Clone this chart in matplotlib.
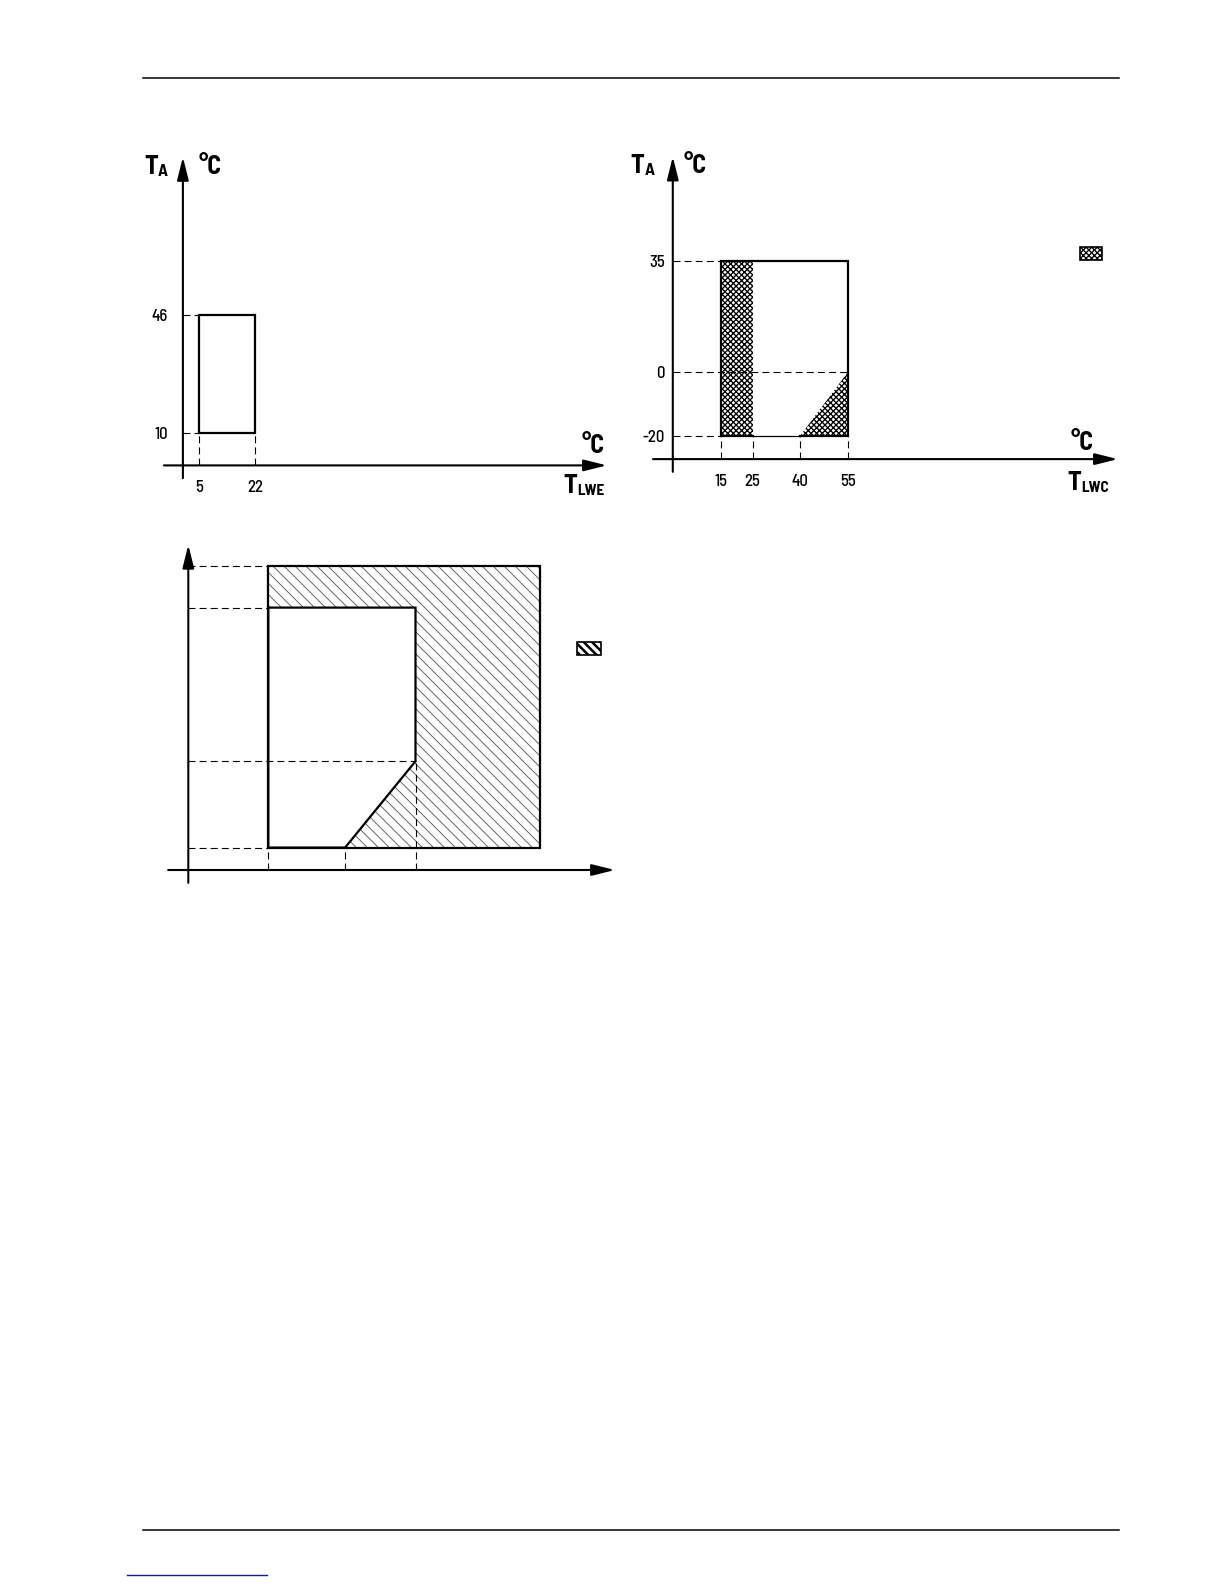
import matplotlib
matplotlib.use('Agg')
import numpy as np
import matplotlib.pyplot as plt
from matplotlib.collections import LineCollection
from matplotlib.lines import Line2D
from matplotlib.patches import Polygon, Rectangle

W, H = 1224, 1584

# chart 1: T_A against leaving water temperature, evaporator
lwe_x = [5, 22]
lwe_y = [10, 46]

# chart 2: T_A against leaving water temperature, condenser
lwc_x = [15, 25, 40, 55]
lwc_y = [-20, 0, 35]

# chart 3: same kind of envelope, values not printed in the source
c3_x = [25, 49, 71, 110]
c3_y = [7, 34, 82, 95]

TICKFONT = dict(family=['Barlow Semi Condensed', 'DejaVu Sans'], fontweight='medium')
BOLDFONT = dict(family=['Barlow Semi Condensed', 'DejaVu Sans'], fontweight='bold')
plt.rcParams['lines.scale_dashes'] = False

fig = plt.figure(figsize=(W / 100, H / 100), dpi=100)
dash = dict(color='black', lw=0.8, dashes=(5, 3))


def make_axes(x0, y0, sx, sy, xlim, ylim):
    # place an axes so that data (0,0) falls on pixel (x0, y0)
    left = x0 + xlim[0] * sx
    width = (xlim[1] - xlim[0]) * sx
    bottom = y0 - ylim[0] * sy
    height = (ylim[1] - ylim[0]) * sy
    ax = fig.add_axes([left / W, 1 - bottom / H, width / W, height / H])
    ax.set_xlim(xlim)
    ax.set_ylim(ylim)
    ax.axis('off')
    return ax


def arrow(ax, start, end):
    ax.annotate('', xy=end, xytext=start, annotation_clip=False,
                arrowprops=dict(arrowstyle='-|>,head_length=1.4,head_width=0.35',
                                mutation_scale=10, lw=1.5, color='black',
                                shrinkA=0, shrinkB=0))


def ylab(ax, v, dx):
    ax.annotate(str(v), xy=(0, v), xytext=(-dx, -4.2), textcoords='offset points',
                ha='right', va='baseline', fontsize=12, annotation_clip=False, **TICKFONT)


def xlab(ax, v, yaxis):
    ax.annotate(str(v), xy=(v, yaxis), xytext=(0, -19.2), textcoords='offset points',
                ha='center', va='baseline', fontsize=12, annotation_clip=False, **TICKFONT)


def sym(ax, x, y, main, sub, subsize=12.5, dy=2):
    t = ax.text(x, y, main, fontsize=19, ha='left', va='baseline', **BOLDFONT)
    ax.annotate(sub, xy=(1, 0), xycoords=t, xytext=(0.2, dy), textcoords='offset points',
                fontsize=subsize, ha='left', va='baseline', **BOLDFONT)


def unit(ax, x, y):
    ax.text(x, y, '°C', fontsize=18.5, ha='center', va='baseline', **BOLDFONT)


def set_hlw(p, w):
    if hasattr(p, 'set_hatch_linewidth'):
        p.set_hatch_linewidth(w)


# ---------------- chart 1 ----------------
ax1 = make_axes(182.9, 465.4, 3.276, 3.27, (-14, 136), (-12, 98))
for v in lwe_y:
    ax1.plot([0, lwe_x[0]], [v, v], **dash)
for v in lwe_x:
    ax1.plot([v, v], [0, lwe_y[0]], **dash)
ax1.add_patch(Rectangle((lwe_x[0], lwe_y[0]), lwe_x[1] - lwe_x[0], lwe_y[1] - lwe_y[0],
                        fill=False, ec='black', lw=1.6))
arrow(ax1, (-5.8, 0), (129.4, 0))
arrow(ax1, (0, -3.9), (0, 94.3))
for v in lwe_y:
    ylab(ax1, v, 11)
for v in lwe_x:
    xlab(ax1, v, 0)
sym(ax1, -11.9, 89.1, 'T', 'A')
unit(ax1, 8.3, 89.1)
unit(ax1, 125.2, 3.9)
sym(ax1, 116, -8.5, 'T', 'LWE', subsize=11, dy=2.4)

# ---------------- chart 2 ----------------
ax2 = make_axes(672.8, 372.3, 3.19, 3.18, (-16, 142), (-40, 70))
x_axis_y = -27.3
band = Rectangle((lwc_x[0], lwc_y[0]), lwc_x[1] - lwc_x[0], lwc_y[2] - lwc_y[0],
                 fc='white', ec='black', lw=0, hatch='xxxxxx')
tri = Polygon([(lwc_x[2], lwc_y[0]), (lwc_x[3], lwc_y[0]), (lwc_x[3], lwc_y[1])],
              closed=True, fc='white', ec='black', lw=0, hatch='xxxxxx')
for p in (band, tri):
    set_hlw(p, 0.95)
    ax2.add_patch(p)
for v in (lwc_y[2], lwc_y[0]):
    ax2.plot([0, lwc_x[0]], [v, v], **dash)
ax2.plot([0, lwc_x[3]], [lwc_y[1], lwc_y[1]], **dash)
for v in lwc_x:
    ax2.plot([v, v], [x_axis_y, lwc_y[0]], **dash)
ax2.plot([lwc_x[1], lwc_x[0], lwc_x[0], lwc_x[3], lwc_x[3], lwc_x[2]],
         [lwc_y[0], lwc_y[0], lwc_y[2], lwc_y[2], lwc_y[0], lwc_y[0]],
         color='black', lw=1.6, solid_joinstyle='miter')
ax2.plot([lwc_x[1], lwc_x[2]], [lwc_y[0], lwc_y[0]], color='black', lw=0.9)
arrow(ax2, (-6.2, x_axis_y), (139.5, x_axis_y))
arrow(ax2, (0, -31.3), (0, 67.8))
for v in lwc_y:
    ylab(ax2, v, 5.6)
for v in lwc_x:
    xlab(ax2, v, x_axis_y)
sym(ax2, -13.2, 62.7, 'T', 'A')
unit(ax2, 7.1, 62.7)
unit(ax2, 128.3, -24.4)
sym(ax2, 123.8, -37, 'T', 'LWC', subsize=11, dy=2.4)
key2 = Rectangle((127.6, 35.3), 6.9, 4.2, fc='white', ec='black', lw=1.2,
                 hatch='xxxxxx')
set_hlw(key2, 0.95)
ax2.add_patch(key2)

# ---------------- chart 3 ----------------
ax3 = make_axes(188.3, 870, 3.2, 3.2, (-8, 140), (-8, 105))
outer = Rectangle((c3_x[0], c3_y[0]), c3_x[3] - c3_x[0], c3_y[3] - c3_y[0],
                  fc='white', ec='none', zorder=1)
ax3.add_patch(outer)
# thin grey hatch, drawn as lines clipped to the outer box
ks = np.arange(c3_x[0] + c3_y[0], c3_x[3] + c3_y[3] + 4, 3.44)
segs = [[(k - c3_y[0], c3_y[0]), (k - c3_y[3], c3_y[3])] for k in ks]
hatch = LineCollection(segs, colors='#666666', linewidths=0.7, zorder=1.1)
ax3.add_collection(hatch)
hatch.set_clip_path(outer)
inner = [(c3_x[0], c3_y[0]), (c3_x[0], c3_y[2]), (c3_x[2], c3_y[2]),
         (c3_x[2], c3_y[1]), (c3_x[1], c3_y[0])]
ax3.add_patch(Polygon(inner, closed=True, fc='white', ec='none', zorder=1.2))
for v in (c3_y[3], c3_y[2], c3_y[0]):
    ax3.plot([0, c3_x[0]], [v, v], **dash)
ax3.plot([0, c3_x[2]], [c3_y[1], c3_y[1]], **dash)
for v in c3_x[:2]:
    ax3.plot([v, v], [0, c3_y[0]], **dash)
ax3.plot([c3_x[2], c3_x[2]], [0, c3_y[1]], **dash)
ax3.add_patch(Polygon(inner, closed=True, fill=False, ec='black', lw=1.6, zorder=3))
ax3.add_patch(Rectangle((c3_x[0], c3_y[0]), c3_x[3] - c3_x[0], c3_y[3] - c3_y[0],
                        fill=False, ec='black', lw=1.6, zorder=3))
arrow(ax3, (-6.3, 0), (133.3, 0))
arrow(ax3, (0, -4), (0, 101.6))
key3 = Rectangle((121.4, 67.1), 7.5, 4.2, fc='white', ec='black', lw=1.2,
                 hatch='\\\\\\\\')
set_hlw(key3, 1.8)
ax3.add_patch(key3)

# page rules and link underline
for yy in (78.3, 1530):
    fig.add_artist(Line2D([143 / W, 1119 / W], [1 - yy / H, 1 - yy / H],
                          color='black', lw=1.1))
fig.add_artist(Line2D([127 / W, 267 / W], [1 - 1575 / H, 1 - 1575 / H],
                      color='#1c1c80', lw=1.0))

fig.savefig('out.png', dpi=100)
